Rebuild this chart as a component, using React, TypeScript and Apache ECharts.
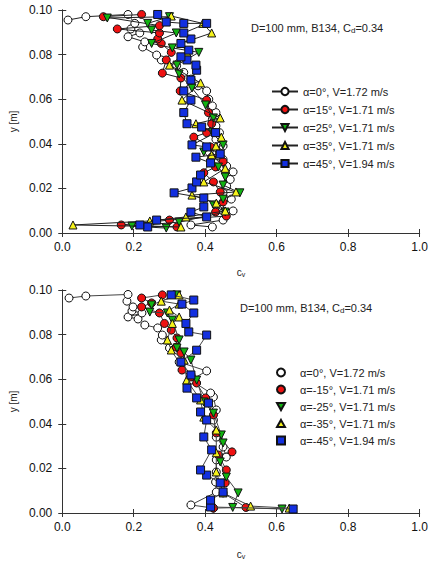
import React, { useEffect, useRef } from "react";
import * as echarts from "echarts";

// ---------- data ----------
const xTicks = [0, 0.2, 0.4, 0.6, 0.8, 1.0];
const yTicks = [0, 0.02, 0.04, 0.06, 0.08, 0.1];

const topNames = [
  "α=0°, V=1.72 m/s",
  "α=15°, V=1.71 m/s",
  "α=25°, V=1.71 m/s",
  "α=35°, V=1.71 m/s",
  "α=45°, V=1.94 m/s",
];
const bottomNames = [
  "α=0°, V=1.72 m/s",
  "α=-15°, V=1.71 m/s",
  "α=-25°, V=1.71 m/s",
  "α=-35°, V=1.71 m/s",
  "α=-45°, V=1.94 m/s",
];

// top panel: [y, cv]
const top0 = [[0.0027,0.42],[0.0036,0.36],[0.0058,0.45],[0.0099,0.478],[0.012,0.44],[0.0152,0.473],[0.018,0.45],[0.021,0.46],[0.024,0.47],[0.0274,0.478],[0.030,0.46],[0.033,0.45],[0.036,0.44],[0.039,0.45],[0.042,0.43],[0.045,0.44],[0.048,0.43],[0.051,0.42],[0.054,0.43],[0.057,0.42],[0.060,0.41],[0.0637,0.404],[0.066,0.38],[0.069,0.36],[0.072,0.34],[0.075,0.32],[0.0776,0.277],[0.0798,0.264],[0.0834,0.225],[0.0857,0.231],[0.088,0.184],[0.0897,0.217],[0.0915,0.192],[0.094,0.203],[0.098,0.184],[0.097,0.066],[0.0955,0.016]];
const top15 = [[0.0027,0.321],[0.0036,0.165],[0.0058,0.30],[0.0076,0.459],[0.0094,0.429],[0.0139,0.45],[0.0184,0.442],[0.0229,0.423],[0.027,0.396],[0.0296,0.429],[0.032,0.45],[0.034,0.418],[0.0386,0.415],[0.043,0.368],[0.045,0.404],[0.049,0.418],[0.054,0.409],[0.0596,0.404],[0.0637,0.33],[0.0695,0.332],[0.0717,0.28],[0.0776,0.291],[0.081,0.305],[0.085,0.277],[0.087,0.267],[0.0897,0.272],[0.0915,0.154],[0.093,0.272],[0.097,0.115],[0.098,0.222]];
const top25 = [[0.0022,0.291],[0.0031,0.195],[0.0049,0.327],[0.0094,0.456],[0.0126,0.423],[0.0152,0.45],[0.018,0.497],[0.0215,0.45],[0.0251,0.456],[0.0296,0.437],[0.0363,0.396],[0.0395,0.45],[0.045,0.42],[0.0516,0.423],[0.0574,0.401],[0.065,0.363],[0.0713,0.327],[0.0753,0.321],[0.081,0.382],[0.083,0.308],[0.085,0.25],[0.0897,0.319],[0.091,0.25],[0.094,0.239],[0.097,0.30],[0.0964,0.126]];
const top35 = [[0.0027,0.332],[0.0036,0.03],[0.0054,0.245],[0.0072,0.346],[0.0099,0.456],[0.0134,0.431],[0.017,0.363],[0.0184,0.486],[0.0229,0.396],[0.029,0.456],[0.035,0.418],[0.039,0.43],[0.043,0.445],[0.049,0.374],[0.0516,0.442],[0.0596,0.335],[0.0673,0.387],[0.0753,0.30],[0.081,0.349],[0.085,0.332],[0.0897,0.418],[0.094,0.393],[0.0973,0.305]];
const top45 = [[0.0027,0.239],[0.0036,0.217],[0.0058,0.264],[0.0072,0.404],[0.0094,0.36],[0.0117,0.396],[0.0157,0.396],[0.018,0.313],[0.0202,0.363],[0.0229,0.376],[0.026,0.387],[0.0314,0.415],[0.034,0.374],[0.0354,0.442],[0.0386,0.404],[0.0395,0.363],[0.045,0.429],[0.0475,0.39],[0.049,0.349],[0.054,0.34],[0.0596,0.36],[0.0637,0.34],[0.0686,0.36],[0.073,0.376],[0.0753,0.374],[0.0776,0.349],[0.079,0.332],[0.082,0.354],[0.085,0.332],[0.087,0.36],[0.0897,0.34],[0.094,0.404],[0.094,0.34],[0.0946,0.291],[0.098,0.267]];

// bottom panel: [y, cv]
const bot0 = [[0.0022,0.423],[0.0036,0.36],[0.0094,0.431],[0.0139,0.429],[0.0184,0.431],[0.0238,0.431],[0.0251,0.459],[0.0296,0.45],[0.034,0.431],[0.0417,0.423],[0.0462,0.431],[0.052,0.423],[0.0538,0.415],[0.0596,0.36],[0.0637,0.404],[0.0677,0.327],[0.074,0.30],[0.0776,0.277],[0.0798,0.28],[0.083,0.267],[0.0843,0.231],[0.087,0.212],[0.0879,0.184],[0.0897,0.223],[0.0906,0.195],[0.0924,0.198],[0.095,0.181],[0.098,0.184],[0.0973,0.066],[0.0964,0.019]];
const botM15 = [[0.0022,0.423],[0.0025,0.514],[0.009,0.45],[0.0135,0.456],[0.0193,0.459],[0.026,0.437],[0.0274,0.475],[0.0359,0.431],[0.044,0.423],[0.0516,0.401],[0.0583,0.376],[0.061,0.36],[0.0641,0.335],[0.0717,0.332],[0.0744,0.319],[0.0785,0.321],[0.082,0.305],[0.085,0.286],[0.0897,0.272],[0.0924,0.222],[0.0942,0.25],[0.0964,0.222],[0.0978,0.28]];
const botM25 = [[0.0018,0.615],[0.0025,0.477],[0.009,0.492],[0.0161,0.459],[0.0229,0.442],[0.0314,0.45],[0.035,0.445],[0.0448,0.423],[0.0498,0.396],[0.0596,0.376],[0.0686,0.36],[0.0722,0.341],[0.074,0.321],[0.0776,0.327],[0.0865,0.308],[0.0897,0.294],[0.0901,0.245],[0.0933,0.25],[0.0978,0.321]];
const botM35 = [[0.0022,0.635],[0.0031,0.527],[0.009,0.45],[0.0184,0.431],[0.027,0.431],[0.0372,0.431],[0.043,0.396],[0.0507,0.387],[0.0596,0.348],[0.0686,0.341],[0.0731,0.305],[0.0776,0.294],[0.085,0.308],[0.0879,0.327],[0.091,0.30],[0.0937,0.327],[0.095,0.277],[0.0978,0.327]];
const botM45 = [[0.0018,0.646],[0.0027,0.415],[0.0058,0.415],[0.0094,0.45],[0.0135,0.442],[0.017,0.404],[0.0193,0.387],[0.0283,0.418],[0.0341,0.396],[0.0417,0.404],[0.0453,0.387],[0.0493,0.409],[0.0516,0.376],[0.056,0.349],[0.0619,0.36],[0.0677,0.332],[0.073,0.376],[0.0798,0.404],[0.0812,0.354],[0.085,0.346],[0.0897,0.368],[0.0937,0.335],[0.0955,0.368],[0.0978,0.305]];

const FONT = "'Liberation Sans', Arial, sans-serif";
const DOWN_TRI = "path://M0,0 L10,0 L5,9 Z";
const UP_TRI = "path://M5,0 L10,9 L0,9 Z";

const styles = [
  { color: "#ffffff", symbol: "circle" },
  { color: "#ee1111", symbol: "circle" },
  { color: "#11b311", symbol: DOWN_TRI },
  { color: "#f5f21a", symbol: UP_TRI },
  { color: "#1330e0", symbol: "rect" },
];

export default function App() {
  const ref = useRef<HTMLDivElement>(null);
  useEffect(() => {
    const chart = echarts.init(ref.current!, null, { renderer: "svg" });

    const grids = [
      { left: 56, top: 10, width: 364, height: 223 },
      { left: 56, top: 290, width: 364, height: 223 },
    ];

    const axisLine = { show: true, lineStyle: { color: "#333", width: 1 } };
    const tick = { show: true, inside: true, length: 4, lineStyle: { color: "#333" } };
    const xAxes: any[] = [];
    const yAxes: any[] = [];
    [0, 1].forEach((g) => {
      xAxes.push({
        type: "value", gridIndex: g, min: 0, max: 1, interval: 0.2, position: "bottom",
        axisLine, axisTick: tick, splitLine: { show: false },
        axisLabel: { color: "#111", fontSize: 12, fontFamily: FONT, margin: 8, formatter: (v: number) => v.toFixed(1) },
        name: "c{s|v}", nameLocation: "middle", nameGap: g === 0 ? 33 : 35,
        nameTextStyle: { color: "#222", fontSize: 10, fontFamily: FONT, rich: { s: { fontSize: 7, padding: [5, 0, 0, 0], fontFamily: FONT, color: "#222" } } },
      });
      xAxes.push({
        type: "value", gridIndex: g, min: 0, max: 1, interval: 0.2, position: "top",
        axisLine, axisTick: tick, splitLine: { show: false }, axisLabel: { show: false },
      });
      yAxes.push({
        type: "value", gridIndex: g, min: 0, max: 0.1, interval: 0.02, position: "left",
        axisLine, axisTick: tick, splitLine: { show: false },
        axisLabel: { color: "#111", fontSize: 12, fontFamily: FONT, margin: 10, formatter: (v: number) => v.toFixed(2) },
        name: "y [m]", nameLocation: "middle", nameGap: 42,
        nameTextStyle: { color: "#222", fontSize: 10, fontFamily: FONT },
      });
      yAxes.push({
        type: "value", gridIndex: g, min: 0, max: 0.1, interval: 0.02, position: "right",
        axisLine, axisTick: tick, splitLine: { show: false }, axisLabel: { show: false },
      });
    });

    const topData = [top0, top15, top25, top35, top45];
    const botData = [bot0, botM15, botM25, botM35, botM45];
    const series: any[] = [];
    const mk = (name: string, d: number[][], i: number, g: number, lineColor: string) => ({
      type: "line",
      name,
      xAxisIndex: g * 2,
      yAxisIndex: g * 2,
      data: d.map((p) => [p[1], p[0]]),
      symbol: styles[i].symbol,
      symbolSize: 8,
      showSymbol: true,
      lineStyle: { color: lineColor, width: 1 },
      itemStyle: { color: styles[i].color, borderColor: "#111", borderWidth: 1 },
      z: 2 + i,
    });
    topData.forEach((d, i) => series.push(mk(topNames[i], d, i, 0, "#222")));
    botData.forEach((d, i) => series.push(mk(bottomNames[i] + (i === 0 ? "\u200b" : ""), d, i, 1, "#444")));

    const legendText = { fontSize: 11, fontFamily: FONT, color: "#222" };

    chart.setOption({
      animation: false,
      grid: grids,
      xAxis: xAxes,
      yAxis: yAxes,
      series,
      legend: [
        {
          orient: "vertical", left: 266, top: 81, itemWidth: 26, itemHeight: 9, itemGap: 7,
          data: topNames, textStyle: legendText, selectedMode: false,
        },
        {
          orient: "vertical", left: 271, top: 362, itemWidth: 8, itemHeight: 8, itemGap: 6,
          data: bottomNames.map((n, i) => ({
            name: n + (i === 0 ? "\u200b" : ""),
            icon: i === 0 || i === 1 ? "circle" : i === 2 ? DOWN_TRI : i === 3 ? UP_TRI : "rect",
          })),
          textStyle: { ...legendText, padding: [0, 0, 0, 10] }, selectedMode: false,
        },
      ],
      title: [
        {
          text: "D=100 mm, B134, C{s|d}=0.34", left: 246, top: 16,
          textStyle: { fontSize: 11, fontWeight: "normal", fontFamily: FONT, color: "#222",
            rich: { s: { fontSize: 8, padding: [5, 0, 0, 0], fontFamily: FONT, color: "#222" } } },
        },
        {
          text: "D=100 mm, B134, C{s|d}=0.34", left: 235, top: 296,
          textStyle: { fontSize: 11, fontWeight: "normal", fontFamily: FONT, color: "#222",
            rich: { s: { fontSize: 8, padding: [5, 0, 0, 0], fontFamily: FONT, color: "#222" } } },
        },
      ],
    });
    return () => chart.dispose();
  }, []);
  return <div ref={ref} style={{ width: 431, height: 563, position: "absolute", left: 0, top: 0, background: "#fff" }} />;
}
